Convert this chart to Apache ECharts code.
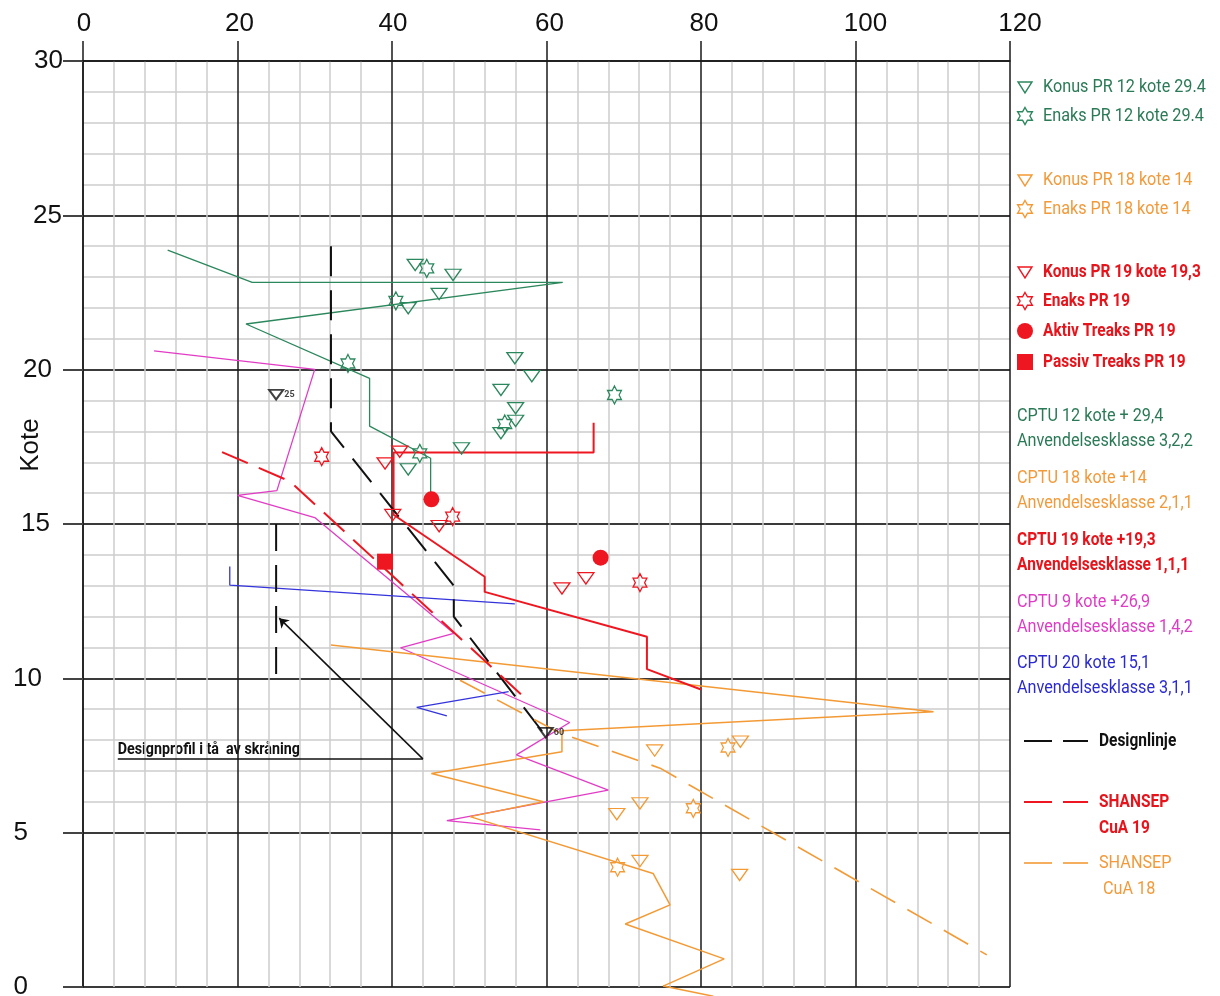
<!DOCTYPE html>
<html>
<head>
<meta charset="utf-8">
<script src="https://cdn.jsdelivr.net/npm/echarts@6/dist/echarts.min.js"></script>
<style>
  html, body { margin: 0; padding: 0; background: #fff; }
  #chart { width: 1220px; height: 996px; }
</style>
</head>
<body>
<div id="chart"></div>
<script>
// ---- Axis ranges and tick labels -------------------------------------------
const xTicks = [0, 20, 40, 60, 80, 100, 120];   // su (kPa), top axis
const yTicks = [0, 5, 10, 15, 20, 25, 30];      // kote

// ---- CPTU profiles, pairs of [su, kote] -----------------------------------
const cptu12 = [[10.96, 23.87], [21.9, 22.83], [62.1, 22.83], [21.1, 21.48], [37.1, 19.72],
                [37.1, 18.17], [45.0, 17.13], [45.0, 16.0]];
const cptu18 = [[32.1, 11.08], [110.1, 8.92], [62.0, 8.30], [62.0, 7.62], [45.1, 6.92],
                [59.6, 6.00], [50.1, 5.52], [73.8, 3.68], [76.0, 2.66], [70.2, 2.04],
                [83.0, 0.91], [75.1, 0.03], [81.6, -0.30]];
const cptu19 = [[66.1, 18.28], [66.1, 17.32], [40.2, 17.32], [40.2, 15.30], [52.0, 13.29],
                [52.0, 12.80], [73.0, 11.35], [73.0, 10.30], [80.0, 9.64]];
const cptu9  = [[9.2, 20.61], [30.0, 20.01], [25.1, 16.08], [20.0, 15.93], [30.0, 15.21],
                [48.0, 11.46], [41.1, 10.99], [63.0, 8.57], [56.1, 7.52], [68.0, 6.38],
                [47.1, 5.39], [59.2, 5.09]];
const cptu20Upper = [[19.0, 13.62], [19.0, 13.02], [55.9, 12.41]];
const cptu20Lower = [[55.1, 9.57], [43.2, 9.06], [47.1, 8.78]];

// ---- Design lines and SHANSEP curves --------------------------------------
const designLine = [[32.1, 24.0], [32.1, 18.0], [48.0, 13.0], [48.0, 12.0], [60.0, 8.1]];
const designToe  = [[25.0, 15.0], [25.0, 10.0]];
const shansep19  = [[18.0, 17.33], [26.8, 16.38], [57.5, 9.30]];
const shansep18  = [[48.8, 9.94], [61.7, 8.23], [74.7, 7.09], [117.0, 1.04]];
const toeNoteLine  = [[4.5, 7.39], [44.0, 7.39]];
const toeNoteArrow = [[44.0, 7.39], [25.4, 11.95]];
const toeNoteText  = 'Designprofil i tå  av skråning';

// ---- Lab / field results, pairs of [su, kote] ------------------------------
const konus12 = [[43.0, 23.39], [47.9, 23.07], [46.1, 22.45], [42.1, 21.99], [55.9, 20.37],
                 [58.1, 19.79], [54.1, 19.34], [56.0, 18.75], [56.0, 18.34], [54.1, 17.94],
                 [49.0, 17.45], [42.1, 16.77]];
const enaks12 = [[44.5, 23.28], [40.5, 22.23], [34.3, 20.20], [68.8, 19.18], [54.6, 18.24],
                 [43.6, 17.29]];
const konus18 = [[74.0, 7.66], [85.1, 7.95], [69.1, 5.60], [72.1, 5.95], [72.1, 4.08],
                 [85.0, 3.63]];
const enaks18 = [[83.5, 7.76], [79.0, 5.79], [69.2, 3.88]];
const konus19 = [[39.1, 16.96], [41.0, 17.34], [40.1, 15.29], [46.1, 14.93], [62.0, 12.91],
                 [65.1, 13.24]];
const enaks19 = [[30.9, 17.18], [47.85, 15.24], [72.1, 13.10]];
const aktiv19 = [[45.1, 15.80], [67.0, 13.91]];
const passiv19 = [[39.1, 13.78]];
const designPoints = [[25.0, 19.19, '25'], [59.9, 8.24, '60']];

// ---- Legend texts ----------------------------------------------------------
const legendSymbols = [
  ['tri', 'green',  'Konus PR 12 kote 29.4', false],
  ['hex', 'green',  'Enaks PR 12 kote 29.4', false],
  ['tri', 'orange', 'Konus PR 18 kote 14', false],
  ['hex', 'orange', 'Enaks PR 18 kote 14', false],
  ['tri', 'red',    'Konus PR 19 kote 19,3', true],
  ['hex', 'red',    'Enaks PR 19', true],
  ['dot', 'red',    'Aktiv Treaks PR 19', true],
  ['sq',  'red',    'Passiv Treaks PR 19', true]
];
const legendCptu = [
  ['green',   'CPTU 12 kote + 29,4',   'Anvendelsesklasse 3,2,2', false],
  ['orange',  'CPTU 18 kote +14',      'Anvendelsesklasse 2,1,1', false],
  ['red',     'CPTU 19 kote +19,3',    'Anvendelsesklasse 1,1,1', true],
  ['magenta', 'CPTU 9 kote +26,9',     'Anvendelsesklasse 1,4,2', false],
  ['blue',    'CPTU 20 kote 15,1',     'Anvendelsesklasse 3,1,1', false]
];
const legendDashes = [
  ['black',  ['Designlinje'], true],
  ['red',    ['SHANSEP', 'CuA 19'], true],
  ['orange', ['SHANSEP', ' CuA 18'], false]
];

// ---- Styling ---------------------------------------------------------------
const COLORS = {
  green: '#2b875c', orange: '#f39a35', red: '#ee1620', magenta: '#e23cc6',
  blue: '#3434dc', black: '#111111'
};
const TEXT_COLORS = {
  green: '#2a7a56', orange: '#f29a3a', red: '#e8141c', magenta: '#de3cc4',
  blue: '#2a2ad0', black: '#111111'
};
const AXIS_FONT = '"Liberation Sans", Arial, sans-serif';
const NOTE_FONT = 'Roboto, "Noto Sans", sans-serif';

const TRI = 'path://M0,0L10,0L5,8.66Z';
const HEX = (function () {
  let d = '';
  for (let k = 0; k < 12; k++) {
    const a = (-90 + 30 * k) * Math.PI / 180;
    const r = k % 2 ? 5.7735 : 10;
    d += (k ? 'L' : 'M') + (r * Math.cos(a)).toFixed(3) + ',' + (r * Math.sin(a)).toFixed(3);
  }
  return 'path://' + d + 'Z';
})();

// plot area
const G = { left: 83, top: 61, width: 927, height: 926 };

// per-label nudges of the kote labels (right padding) and su labels (left padding)
const yLabelPad = { 0: 35, 5: 35, 10: 21, 15: 13, 20: 11, 25: 1, 30: 0 };
const xLabelPad = { 0: 2, 20: 4, 40: 2, 60: 6, 80: 6, 100: 20, 120: 20 };

function profile(name, data, color, width, dash, extra) {
  return Object.assign({
    name, type: 'line', data, xAxisIndex: 0, yAxisIndex: 0,
    symbol: 'none', showSymbol: false, silent: true, z: 3, animation: false,
    lineStyle: { color, width, type: dash || 'solid', cap: 'butt' }
  }, extra || {});
}
function marks(name, data, symbol, size, color, filled) {
  return {
    name, type: 'scatter', data, xAxisIndex: 0, yAxisIndex: 0,
    symbol, symbolSize: size, symbolKeepAspect: true, z: 6, silent: true, animation: false,
    itemStyle: {
      color: filled ? color : 'rgba(255,255,255,0)',
      borderColor: color, borderWidth: filled ? 0 : 1.3, opacity: 1
    }
  };
}

const yRich = {}, xRich = {};
yTicks.forEach(v => {
  yRich['t' + v] = { fontSize: 26, fontFamily: AXIS_FONT, color: '#111', padding: [0, yLabelPad[v], 0, 0] };
});
xTicks.forEach(v => {
  xRich['t' + v] = { fontSize: 26, fontFamily: AXIS_FONT, color: '#111', padding: [0, 0, 0, xLabelPad[v]] };
});

const option = {
  backgroundColor: '#ffffff',
  animation: false,
  grid: [
    Object.assign({ outerBoundsMode: 'none', containLabel: false }, G),
    { left: G.left, top: G.top, width: G.width, height: G.height * 25 / 30, outerBoundsMode: 'none', containLabel: false }
  ],
  xAxis: [
    {
      type: 'value', gridIndex: 0, position: 'top', min: 0, max: 120, interval: 20, z: 1,
      axisLine: { show: true, onZero: false, lineStyle: { color: '#1a1a1a', width: 1.5 } },
      axisTick: { show: true, length: 20, lineStyle: { color: '#1a1a1a', width: 1.5 } },
      axisLabel: {
        margin: 24, showMinLabel: true, showMaxLabel: true, hideOverlap: false,
        formatter: v => '{t' + v + '|' + v + '}', rich: xRich
      },
      splitLine: { show: true, lineStyle: { color: '#1a1a1a', width: 1.5 } },
      minorTick: { show: false, splitNumber: 5 },
      minorSplitLine: { show: true, lineStyle: { color: '#cdcdcd', width: 1.5 } }
    },
    { type: 'value', gridIndex: 1, min: 0, max: 120, show: false }
  ],
  yAxis: [
    {
      type: 'value', gridIndex: 0, min: 0, max: 30, interval: 5, z: 1,
      axisLine: { show: true, onZero: false, lineStyle: { color: '#1a1a1a', width: 1.5 } },
      axisTick: { show: true, length: 20, lineStyle: { color: '#444', width: 2 } },
      axisLabel: {
        margin: 20, showMinLabel: true, showMaxLabel: true, hideOverlap: false,
        formatter: v => '{t' + v + '|' + v + '}', rich: yRich
      },
      splitLine: { show: true, lineStyle: { color: '#3a3a3a', width: 2 } }
    },
    {
      type: 'value', gridIndex: 1, min: 5, max: 30, interval: 5, z: 0,
      axisLine: { show: false }, axisTick: { show: false }, axisLabel: { show: false },
      splitLine: { show: false },
      minorTick: { show: false, splitNumber: 5 },
      minorSplitLine: { show: true, lineStyle: { color: '#cdcdcd', width: 1.5 } }
    }
  ],
  series: [
    profile('CPTU 12', cptu12, COLORS.green, 1.3),
    profile('CPTU 9', cptu9, COLORS.magenta, 1.3),
    profile('CPTU 20', cptu20Upper, COLORS.blue, 1.3),
    profile('CPTU 20 nedre', cptu20Lower, COLORS.blue, 1.3),
    profile('CPTU 18', cptu18, COLORS.orange, 1.5, 'solid', { clip: false }),
    profile('CPTU 19', cptu19, COLORS.red, 2),
    profile('Designlinje', designLine, COLORS.black, 2, [30, 14]),
    profile('Designlinje tå', designToe, COLORS.black, 2, [27, 14]),
    profile('SHANSEP CuA 19', shansep19, COLORS.red, 2, [28, 12]),
    profile('SHANSEP CuA 18', shansep18, COLORS.orange, 1.6, [28, 14]),
    profile('Designprofil', toeNoteLine, COLORS.black, 1.5),
    {
      name: 'Designprofil pil', type: 'lines', coordinateSystem: 'cartesian2d',
      xAxisIndex: 0, yAxisIndex: 0, silent: true, z: 3, animation: false,
      symbol: ['none', 'arrow'], symbolSize: 9,
      lineStyle: { color: COLORS.black, width: 1.5, opacity: 1 },
      data: [{ coords: toeNoteArrow }]
    },
    marks('Konus PR 12', konus12, TRI, [16, 13], COLORS.green, false),
    marks('Enaks PR 12', enaks12, HEX, [16, 18], COLORS.green, false),
    marks('Konus PR 18', konus18, TRI, [16, 13], COLORS.orange, false),
    marks('Enaks PR 18', enaks18, HEX, [16, 18], COLORS.orange, false),
    marks('Konus PR 19', konus19, TRI, [16, 13], COLORS.red, false),
    marks('Enaks PR 19', enaks19, HEX, [16, 18], COLORS.red, false),
    marks('Aktiv Treaks PR 19', aktiv19, 'circle', 16, COLORS.red, true),
    marks('Passiv Treaks PR 19', passiv19, 'rect', 16, COLORS.red, true),
    Object.assign(marks('Design', designPoints, TRI, [14, 11], COLORS.black, false), {
      itemStyle: { color: 'rgba(255,255,255,0)', borderColor: COLORS.black, borderWidth: 2 },
      label: {
        show: true, position: 'right', distance: 0, formatter: p => p.data[2],
        fontSize: 9, fontWeight: 'bold', color: COLORS.black, fontFamily: NOTE_FONT
      }
    })
  ]
};

const chart = echarts.init(document.getElementById('chart'), null, { renderer: 'canvas' });
chart.setOption(option);

// ---- Legend and annotations (graphic layer) --------------------------------
function hexPoints(cx, cy, R) {
  const pts = [];
  for (let k = 0; k < 12; k++) {
    const a = (-90 + 30 * k) * Math.PI / 180;
    const r = k % 2 ? R / Math.sqrt(3) : R;
    pts.push([cx + r * Math.cos(a), cy + r * Math.sin(a)]);
  }
  return pts;
}
function legendIcon(kind, color, cx, cy) {
  const st = { fill: 'none', stroke: color, lineWidth: 1.4 };
  if (kind === 'tri') return { type: 'polygon', shape: { points: [[cx - 7, cy - 5], [cx + 7, cy - 5], [cx, cy + 6]] }, style: st };
  if (kind === 'hex') return { type: 'polygon', shape: { points: hexPoints(cx, cy, 8.5) }, style: st };
  if (kind === 'dot') return { type: 'circle', shape: { cx, cy, r: 8 }, style: { fill: color } };
  return { type: 'rect', shape: { x: cx - 8, y: cy - 8, width: 16, height: 16 }, style: { fill: color } };
}
function legendText(str, color, x, y, bold) {
  return {
    type: 'text', x, y, scaleX: bold ? 0.86 : 0.9,
    style: {
      text: str, fill: color, fontFamily: NOTE_FONT, fontSize: 18,
      fontWeight: bold ? 'bold' : 'normal', verticalAlign: 'middle', align: 'left'
    }
  };
}

const graphics = [];
const symbolRowsY = [87, 116, 180, 209, 272, 301, 331, 362];
legendSymbols.forEach((row, i) => {
  const [kind, col, str, bold] = row;
  graphics.push(legendIcon(kind, COLORS[col], 1025, symbolRowsY[i]));
  graphics.push(legendText(str, TEXT_COLORS[col], 1043, symbolRowsY[i], bold));
});
const cptuRowsY = [416, 478, 540, 602, 663];
legendCptu.forEach((row, i) => {
  const [col, l1, l2, bold] = row;
  graphics.push(legendText(l1, TEXT_COLORS[col], 1017, cptuRowsY[i], bold));
  graphics.push(legendText(l2, TEXT_COLORS[col], 1017, cptuRowsY[i] + 25, bold));
});
const dashRowsY = [741, 802, 863];
legendDashes.forEach((row, i) => {
  const [col, lines, bold] = row;
  const y = dashRowsY[i];
  const stroke = { stroke: COLORS[col], lineWidth: col === 'orange' ? 1.6 : 2 };
  graphics.push({ type: 'line', shape: { x1: 1024, y1: y, x2: 1052, y2: y }, style: stroke });
  graphics.push({ type: 'line', shape: { x1: 1063, y1: y, x2: 1088, y2: y }, style: stroke });
  lines.forEach((t, j) => graphics.push(legendText(t, TEXT_COLORS[col], 1099, y + j * 26, bold)));
});

// y axis title
graphics.push({
  type: 'text', x: 31, y: 445, rotation: Math.PI / 2,
  style: { text: 'Kote', fill: '#111', fontFamily: AXIS_FONT, fontSize: 26, align: 'center', verticalAlign: 'middle' }
});

// note above the toe line
const notePos = chart.convertToPixel({ xAxisIndex: 0, yAxisIndex: 0 }, toeNoteLine[0]);
graphics.push({
  type: 'text', x: notePos[0], y: notePos[1] - 1, scaleX: 0.84,
  style: {
    text: toeNoteText, fill: '#111', fontFamily: NOTE_FONT, fontSize: 17,
    fontWeight: 'bold', align: 'left', verticalAlign: 'bottom'
  }
});

chart.setOption({ graphic: graphics });
</script>
</body>
</html>
